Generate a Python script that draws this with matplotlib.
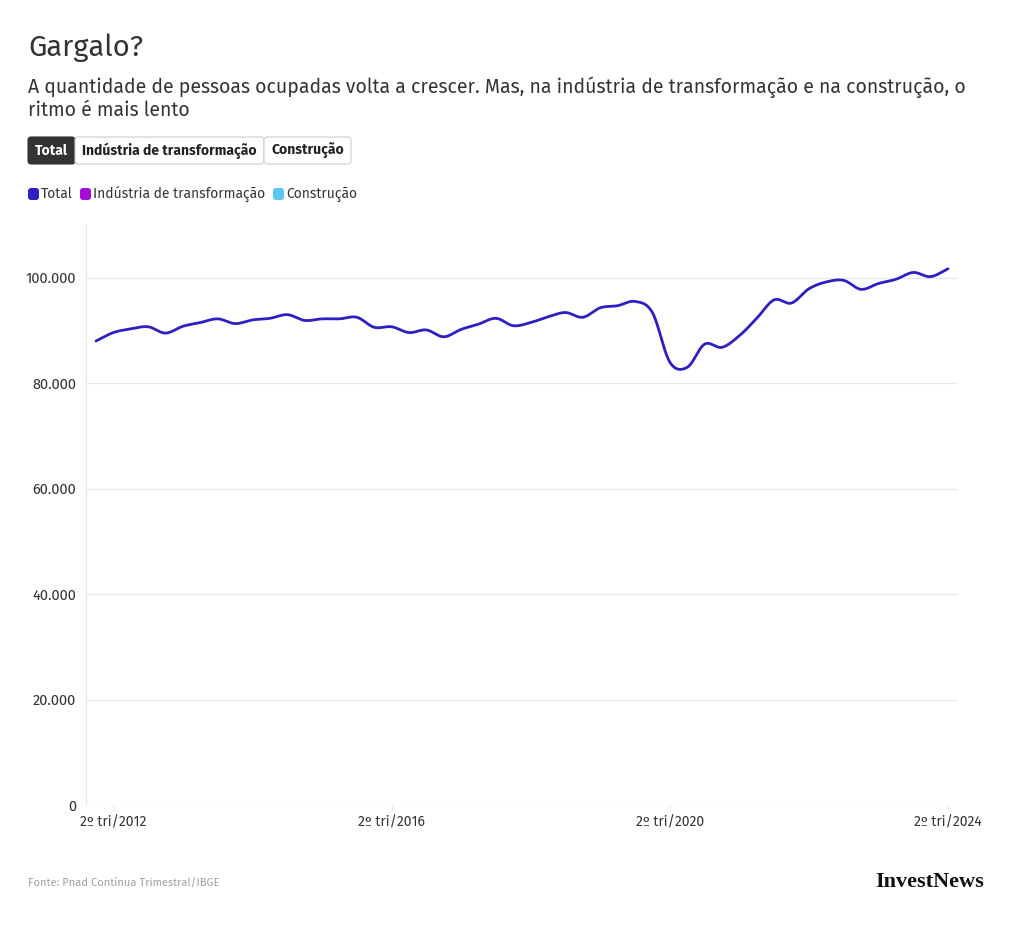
import matplotlib
matplotlib.use("Agg")
import matplotlib.pyplot as plt
from matplotlib.patches import FancyBboxPatch
from matplotlib.ticker import FuncFormatter
import numpy as np

# Pessoas ocupadas (mil), 1º tri/2012 a 2º tri/2024
years = list(range(2012, 2025))
quarters = [f"{q}º tri/{y}" for y in years for q in (1, 2, 3, 4)][:50]
total = [
    88000, 89600, 90300, 90700, 89500, 90800, 91500, 92200, 91300, 92000,
    92300, 93000, 91900, 92200, 92200, 92500, 90600, 90700, 89600, 90100,
    88800, 90200, 91200, 92300, 90900, 91500, 92600, 93400, 92500, 94300,
    94700, 95500, 93400, 84000, 83000, 87400, 86800, 89000, 92300, 95800,
    95200, 97900, 99200, 99500, 97800, 98900, 99700, 101000, 100200, 101700,
]
tick_labels = ["2º tri/2012", "2º tri/2016", "2º tri/2020", "2º tri/2024"]
y_ticks = [0, 20000, 40000, 60000, 80000, 100000]
series_names = ["Total", "Indústria de transformação", "Construção"]
series_colors = ["#2e1fc2", "#a40fd6", "#5ec6f2"]

TEXT = "#333333"
plt.rcParams["font.family"] = ["Fira Sans", "Roboto", "DejaVu Sans"]

W, H = 1020, 948
fig = plt.figure(figsize=(W / 100, H / 100), dpi=100)


def fx(px):
    return px / W


def fy(py):
    return 1 - py / H


# catmull-rom spline, only used to draw the smooth line through the points
def smooth(xs, ys, n=20):
    xs = np.asarray(xs, float)
    ys = np.asarray(ys, float)
    m = np.gradient(ys)  # (y[i+1] - y[i-1]) / 2 inside, one-sided at ends
    u = np.linspace(0, 1, n, endpoint=False)
    h00 = 2 * u**3 - 3 * u**2 + 1
    h10 = u**3 - 2 * u**2 + u
    h01 = -2 * u**3 + 3 * u**2
    h11 = u**3 - u**2
    out_x, out_y = [], []
    for i in range(len(ys) - 1):
        out_x.append(xs[i] + u * (xs[i + 1] - xs[i]))
        out_y.append(h00 * ys[i] + h10 * m[i] + h01 * ys[i + 1] + h11 * m[i + 1])
    out_x.append([xs[-1]])
    out_y.append([ys[-1]])
    return np.concatenate(out_x), np.concatenate(out_y)


ax = fig.add_axes([fx(86), fy(805), fx(958) - fx(86), fy(225) - fy(805)])
x = np.arange(len(total))
sx, sy = smooth(x, total)
ax.plot(sx, sy, color=series_colors[0], lw=2.0, solid_capstyle="round", zorder=3)

ax.set_xlim(-0.575, len(total) - 1 + 0.575)
ax.set_ylim(0, 110000)
ax.set_yticks(y_ticks)
ax.yaxis.set_major_formatter(FuncFormatter(lambda v, _: f"{int(v):,}".replace(",", ".")))
ax.set_xticks([quarters.index(t) for t in tick_labels])
ax.set_xticklabels(tick_labels)
ax.grid(axis="y", color="#e8e8e8", lw=0.8)
ax.set_axisbelow(True)
for side in ("top", "right", "bottom"):
    ax.spines[side].set_visible(False)
ax.spines["left"].set_color("#e8e8e8")
ax.tick_params(axis="y", length=0, pad=7, labelsize=10.5, labelcolor=TEXT)
ax.tick_params(axis="x", length=4, color="#e8e8e8", pad=3, labelsize=10, labelcolor=TEXT)

# titles
fig.text(fx(28), fy(48), "Gargalo?", fontsize=21, color=TEXT, va="center", ha="left")
fig.text(fx(28), fy(87), "A quantidade de pessoas ocupadas volta a crescer. Mas, na indústria de transformação e na construção, o",
         fontsize=14, color=TEXT, va="center", ha="left")
fig.text(fx(28), fy(110), "ritmo é mais lento", fontsize=14, color=TEXT, va="center", ha="left")

# button group
btns = [(28, 75), (75, 264), (264, 351)]
for i, ((x0, x1), name) in enumerate(zip(btns, series_names)):
    active = i == 0
    box = FancyBboxPatch((fx(x0), fy(164)), fx(x1) - fx(x0), fy(137) - fy(164),
                         boxstyle="round,pad=0,rounding_size=0.003",
                         transform=fig.transFigure, facecolor="#333333" if active else "white",
                         edgecolor="#333333" if active else "#cccccc", lw=0.8)
    fig.add_artist(box)
    fig.text(fx((x0 + x1) / 2), fy(150.5), name, fontsize=10, fontweight="bold",
             color="white" if active else "#222222", ha="center", va="center")

# legend
lx = [28, 80, 273]
for px, name, col in zip(lx, series_names, series_colors):
    sq = FancyBboxPatch((fx(px), fy(200)), fx(11), fy(188) - fy(200),
                        boxstyle="round,pad=0,rounding_size=0.003",
                        transform=fig.transFigure, facecolor=col, edgecolor="none")
    fig.add_artist(sq)
    fig.text(fx(px + 13), fy(194), name, fontsize=10, color=TEXT, ha="left", va="center")

# footer
fig.text(fx(28), fy(883), "Fonte: Pnad Contínua Trimestral/IBGE", fontsize=8, color="#a0a0a0",
         ha="left", va="center")
fig.text(fx(984), fy(882), "InvestNews", fontsize=16, color="#111111", ha="right", va="center",
         family=["Liberation Serif", "DejaVu Serif"], fontweight="bold", fontstretch="condensed")

fig.savefig("out.png", dpi=100, facecolor="white")
